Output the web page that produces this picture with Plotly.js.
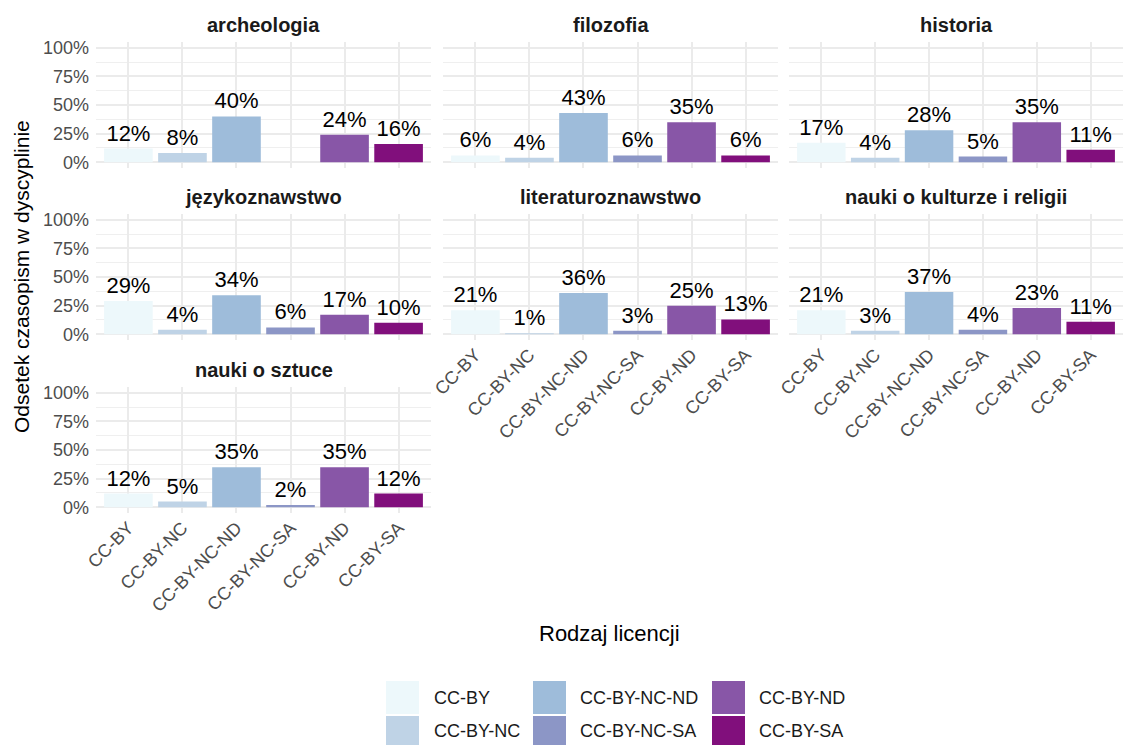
<!DOCTYPE html>
<html>
<head>
<meta charset="utf-8">
<script src="https://cdn.plot.ly/plotly-3.0.1.min.js"></script>
<style>html,body{margin:0;padding:0;background:#fff;}#chart{width:1123px;height:745px;}</style>
</head>
<body>
<div id="chart"></div>
<script>
// ---- data ----
const categories = ['CC-BY', 'CC-BY-NC', 'CC-BY-NC-ND', 'CC-BY-NC-SA', 'CC-BY-ND', 'CC-BY-SA'];
const colors = ['#EDF8FB', '#BFD3E6', '#9EBCDA', '#8C96C6', '#8856A7', '#810F7C'];
const disciplines = ['archeologia', 'filozofia', 'historia', 'językoznawstwo', 'literaturoznawstwo', 'nauki o kulturze i religii', 'nauki o sztuce'];
const archeologia = [0.12, 0.08, 0.40, null, 0.24, 0.16];
const filozofia = [0.06, 0.04, 0.43, 0.06, 0.35, 0.06];
const historia = [0.17, 0.04, 0.28, 0.05, 0.35, 0.11];
const jezykoznawstwo = [0.29, 0.04, 0.34, 0.06, 0.17, 0.10];
const literaturoznawstwo = [0.21, 0.01, 0.36, 0.03, 0.25, 0.13];
const naukiOKulturze = [0.21, 0.03, 0.37, 0.04, 0.23, 0.11];
const naukiOSztuce = [0.12, 0.05, 0.35, 0.02, 0.35, 0.12];
const seriesValues = [archeologia, filozofia, historia, jezykoznawstwo, literaturoznawstwo, naukiOKulturze, naukiOSztuce];
const xTitle = 'Rodzaj licencji';
const yTitle = 'Odsetek czasopism w dyscyplinie';

// ---- layout geometry (pixels) ----
const W = 1123, H = 745;
const colX = [[96, 431], [443, 778], [789, 1123]];
const rowY = [[42, 168], [214, 340], [387, 513]];
const stripY = [25, 197, 370];
const FONT = 'Liberation Sans, Arial, Helvetica, sans-serif';
// panels with x tick labels (bottom of each column)
const bottomPanels = [6, 4, 5];

const traces = [];
const layout = {
  width: W, height: H,
  margin: {l: 0, r: 0, t: 0, b: 0},
  paper_bgcolor: '#fff', plot_bgcolor: '#fff',
  showlegend: false,
  bargap: 0.1,
  font: {family: FONT},
  annotations: [], shapes: []
};

disciplines.forEach((d, i) => {
  const r = Math.floor(i / 3), c = i % 3;
  const xa = 'xaxis' + (i + 1), ya = 'yaxis' + (i + 1);
  const vals = seriesValues[i];
  traces.push({
    type: 'bar',
    x: categories, y: vals,
    xaxis: 'x' + (i + 1), yaxis: 'y' + (i + 1),
    marker: {color: colors, line: {width: 0}},
    text: vals.map(v => v == null ? '' : Math.round(v * 100) + '%'),
    textposition: 'outside',
    constraintext: 'none',
    cliponaxis: false,
    textfont: {family: FONT, size: 22, color: '#000'},
    hoverinfo: 'x+y'
  });
  layout[xa] = {
    domain: [colX[c][0] / W, colX[c][1] / W],
    anchor: 'y' + (i + 1),
    type: 'category',
    categoryorder: 'array', categoryarray: categories,
    range: [-0.6, 5.6],
    showgrid: true, gridcolor: '#EBEBEB', gridwidth: 2,
    zeroline: false, showline: false, ticks: '',
    showticklabels: bottomPanels.includes(i),
    tickangle: -45,
    tickfont: {family: FONT, size: 18, color: '#4D4D4D'},
    fixedrange: true
  };
  layout[ya] = {
    domain: [1 - rowY[r][1] / H, 1 - rowY[r][0] / H],
    anchor: 'x' + (i + 1),
    range: [-0.05, 1.05],
    tick0: 0, dtick: 0.25, tickformat: '.0%',
    showgrid: true, gridcolor: '#EBEBEB', gridwidth: 2,
    minor: {dtick: 0.125, tick0: 0, showgrid: true, gridcolor: '#EFEFEF', gridwidth: 1},
    zeroline: false, showline: false, ticks: '',
    ticklabelstandoff: 6,
    showticklabels: c === 0,
    tickfont: {family: FONT, size: 18, color: '#4D4D4D'},
    fixedrange: true
  };
  layout.annotations.push({
    text: '<b>' + d + '</b>', xref: 'paper', yref: 'paper',
    x: (colX[c][0] + colX[c][1]) / 2 / W, y: 1 - stripY[r] / H,
    xanchor: 'center', yanchor: 'middle', showarrow: false,
    font: {family: FONT, size: 20, color: '#1A1A1A'}
  });
});

// axis titles
layout.annotations.push({
  text: xTitle, xref: 'paper', yref: 'paper',
  x: (96 + 1123) / 2 / W, y: 1 - 633 / H,
  xanchor: 'center', yanchor: 'middle', showarrow: false,
  font: {family: FONT, size: 22, color: '#000'}
});
layout.annotations.push({
  text: yTitle, xref: 'paper', yref: 'paper',
  x: 21 / W, y: 1 - 277 / H, textangle: -90,
  xanchor: 'center', yanchor: 'middle', showarrow: false,
  font: {family: FONT, size: 21, color: '#000'}
});

// legend (3 columns x 2 rows, column-major)
const legKeyX = [386, 533, 712];
const legTextX = [432, 578, 757];
const legKeyY = [[681, 714], [716, 745]];
categories.forEach((cat, k) => {
  const col = Math.floor(k / 2), row = k % 2;
  layout.shapes.push({
    type: 'rect', xref: 'paper', yref: 'paper',
    x0: legKeyX[col] / W, x1: (legKeyX[col] + 33) / W,
    y0: 1 - legKeyY[row][1] / H, y1: 1 - legKeyY[row][0] / H,
    fillcolor: colors[k], line: {width: 0}
  });
  layout.annotations.push({
    text: cat, xref: 'paper', yref: 'paper',
    x: legTextX[col] / W, y: 1 - (legKeyY[row][0] + legKeyY[row][1]) / 2 / H,
    xanchor: 'left', yanchor: 'middle', showarrow: false,
    font: {family: FONT, size: 18, color: '#1A1A1A'}
  });
});

Plotly.newPlot('chart', traces, layout, {displayModeBar: false, staticPlot: true});
</script>
</body>
</html>
